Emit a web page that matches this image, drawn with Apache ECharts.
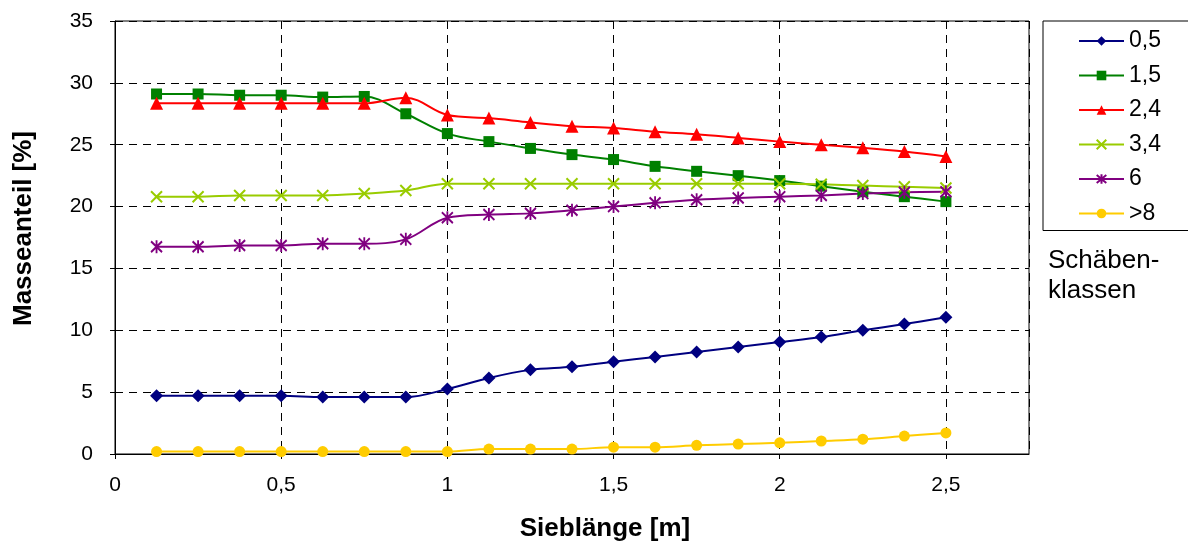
<!DOCTYPE html>
<html>
<head>
<meta charset="utf-8">
<title>Masseanteil</title>
<script src="https://cdn.jsdelivr.net/npm/echarts@6.0.0/dist/echarts.min.js"></script>
<style>
	html, body { margin: 0; padding: 0; background: #fff; }
	#chart { width: 1188px; height: 541px; }
</style>
</head>
<body>
<div id="chart"></div>
<script>
var sieblaenge = [0.125, 0.25, 0.375, 0.5, 0.625, 0.75, 0.875, 1, 1.125, 1.25, 1.375, 1.5, 1.625, 1.75, 1.875, 2, 2.125, 2.25, 2.375, 2.5];
var klasse05 = [4.7, 4.7, 4.7, 4.7, 4.6, 4.6, 4.6, 5.25, 6.15, 6.8, 7.05, 7.45, 7.85, 8.25, 8.65, 9.05, 9.45, 10.0, 10.5, 11.05];
var klasse15 = [29.1, 29.1, 29.0, 29.0, 28.85, 28.9, 27.5, 25.9, 25.25, 24.7, 24.2, 23.8, 23.25, 22.85, 22.5, 22.1, 21.65, 21.2, 20.8, 20.4];
var klasse24 = [28.35, 28.35, 28.35, 28.35, 28.35, 28.35, 28.8, 27.4, 27.15, 26.8, 26.5, 26.35, 26.05, 25.85, 25.55, 25.25, 25.0, 24.75, 24.45, 24.05];
var klasse34 = [20.8, 20.8, 20.9, 20.9, 20.9, 21.05, 21.3, 21.85, 21.85, 21.85, 21.85, 21.85, 21.85, 21.85, 21.85, 21.85, 21.8, 21.7, 21.6, 21.5];
var klasse6 = [16.75, 16.75, 16.85, 16.85, 17.0, 17.0, 17.35, 19.1, 19.35, 19.45, 19.7, 20.0, 20.3, 20.55, 20.7, 20.8, 20.9, 21.05, 21.15, 21.2];
var klasse8 = [0.2, 0.2, 0.2, 0.2, 0.2, 0.2, 0.2, 0.2, 0.4, 0.4, 0.4, 0.55, 0.55, 0.7, 0.8, 0.9, 1.05, 1.2, 1.45, 1.7];
var klassenNamen = ['0,5', '1,5', '2,4', '3,4', '6', '>8'];

var FONT = "'Liberation Sans', Arial, sans-serif";

function zipPoints(ys) {
	var out = [];
	for (var i = 0; i < sieblaenge.length; i++) {
		out.push([sieblaenge[i], ys[i]]);
	}
	return out;
}

function komma(v) {
	return String(v).replace('.', ',');
}

function makeSeries(name, data, color, symbol, size, stroke) {
	return {
		name: name,
		type: 'line',
		data: zipPoints(data),
		smooth: 0.35,
		symbol: symbol,
		symbolSize: size,
		showAllSymbol: true,
		lineStyle: { color: color, width: 2 },
		itemStyle: stroke
			? { color: 'rgba(0,0,0,0)', borderColor: color, borderWidth: 2 }
			: { color: color, borderWidth: 0 },
		emphasis: { disabled: true }
	};
}

function masseChart() {
	var myChart = echarts.init(document.getElementById('chart'));
	var option = {
		animation: false,
		textStyle: { fontFamily: FONT },
		grid: {
			left: 115, right: 159, top: 21, bottom: 87,
			outerBoundsMode: 'none',
			containLabel: false,
			show: true, borderColor: '#000', borderWidth: 1
		},
		legend: {
			orient: 'vertical',
			left: 1043, top: 21,
			padding: [8, 80, 5, 35],
			borderColor: '#000', borderWidth: 1,
			itemWidth: 45, itemHeight: 12, itemGap: 10.5,
			textStyle: { fontSize: 23, color: '#000', lineHeight: 24, fontFamily: FONT },
			data: klassenNamen
		},
		graphic: [{
			type: 'text',
			left: 1048, top: 246,
			style: {
				text: 'Schäben-\nklassen',
				font: '26px ' + FONT,
				lineHeight: 30,
				fill: '#000'
			}
		}],
		xAxis: {
			type: 'value',
			min: 0, max: 2.75, interval: 0.5,
			name: 'Sieblänge [m]',
			nameLocation: 'middle',
			nameGap: 62,
			nameTextStyle: { fontSize: 26, fontWeight: 'bold', color: '#000', padding: [0, 0, 0, 66] },
			axisLine: { lineStyle: { color: '#000', width: 1 } },
			axisTick: { show: true, length: 5, lineStyle: { color: '#000' } },
			axisLabel: { fontSize: 21, color: '#000', margin: 21, showMaxLabel: false, formatter: komma },
			splitLine: { show: true, lineStyle: { color: '#000', type: [8, 6], width: 1 } }
		},
		yAxis: {
			type: 'value',
			min: 0, max: 35, interval: 5,
			name: 'Masseanteil [%]',
			nameLocation: 'middle',
			nameGap: 78,
			nameTextStyle: { fontSize: 26, fontWeight: 'bold', color: '#000', padding: [0, 0, 0, 18] },
			axisLine: { show: true, lineStyle: { color: '#000', width: 1 } },
			axisTick: { show: true, length: 5, lineStyle: { color: '#000' } },
			axisLabel: { fontSize: 21, color: '#000', margin: 22 },
			splitLine: { show: true, lineStyle: { color: '#000', type: [8, 6], width: 1 } }
		},
		series: [
			makeSeries('0,5', klasse05, '#000080', 'diamond', 13, false),
			makeSeries('1,5', klasse15, '#008000', 'rect', 11, false),
			makeSeries('2,4', klasse24, '#ff0000', 'triangle', 13, false),
			makeSeries('3,4', klasse34, '#99cc00', 'path://M0,0L10,10M10,0L0,10', 11, true),
			makeSeries('6', klasse6, '#800080', 'path://M0,1L10,11M10,1L0,11M5,0L5,12', [11, 13], true),
			makeSeries('>8', klasse8, '#ffcc00', 'circle', 11, false)
		]
	};
	myChart.setOption(option);
}
masseChart();
</script>
</body>
</html>
